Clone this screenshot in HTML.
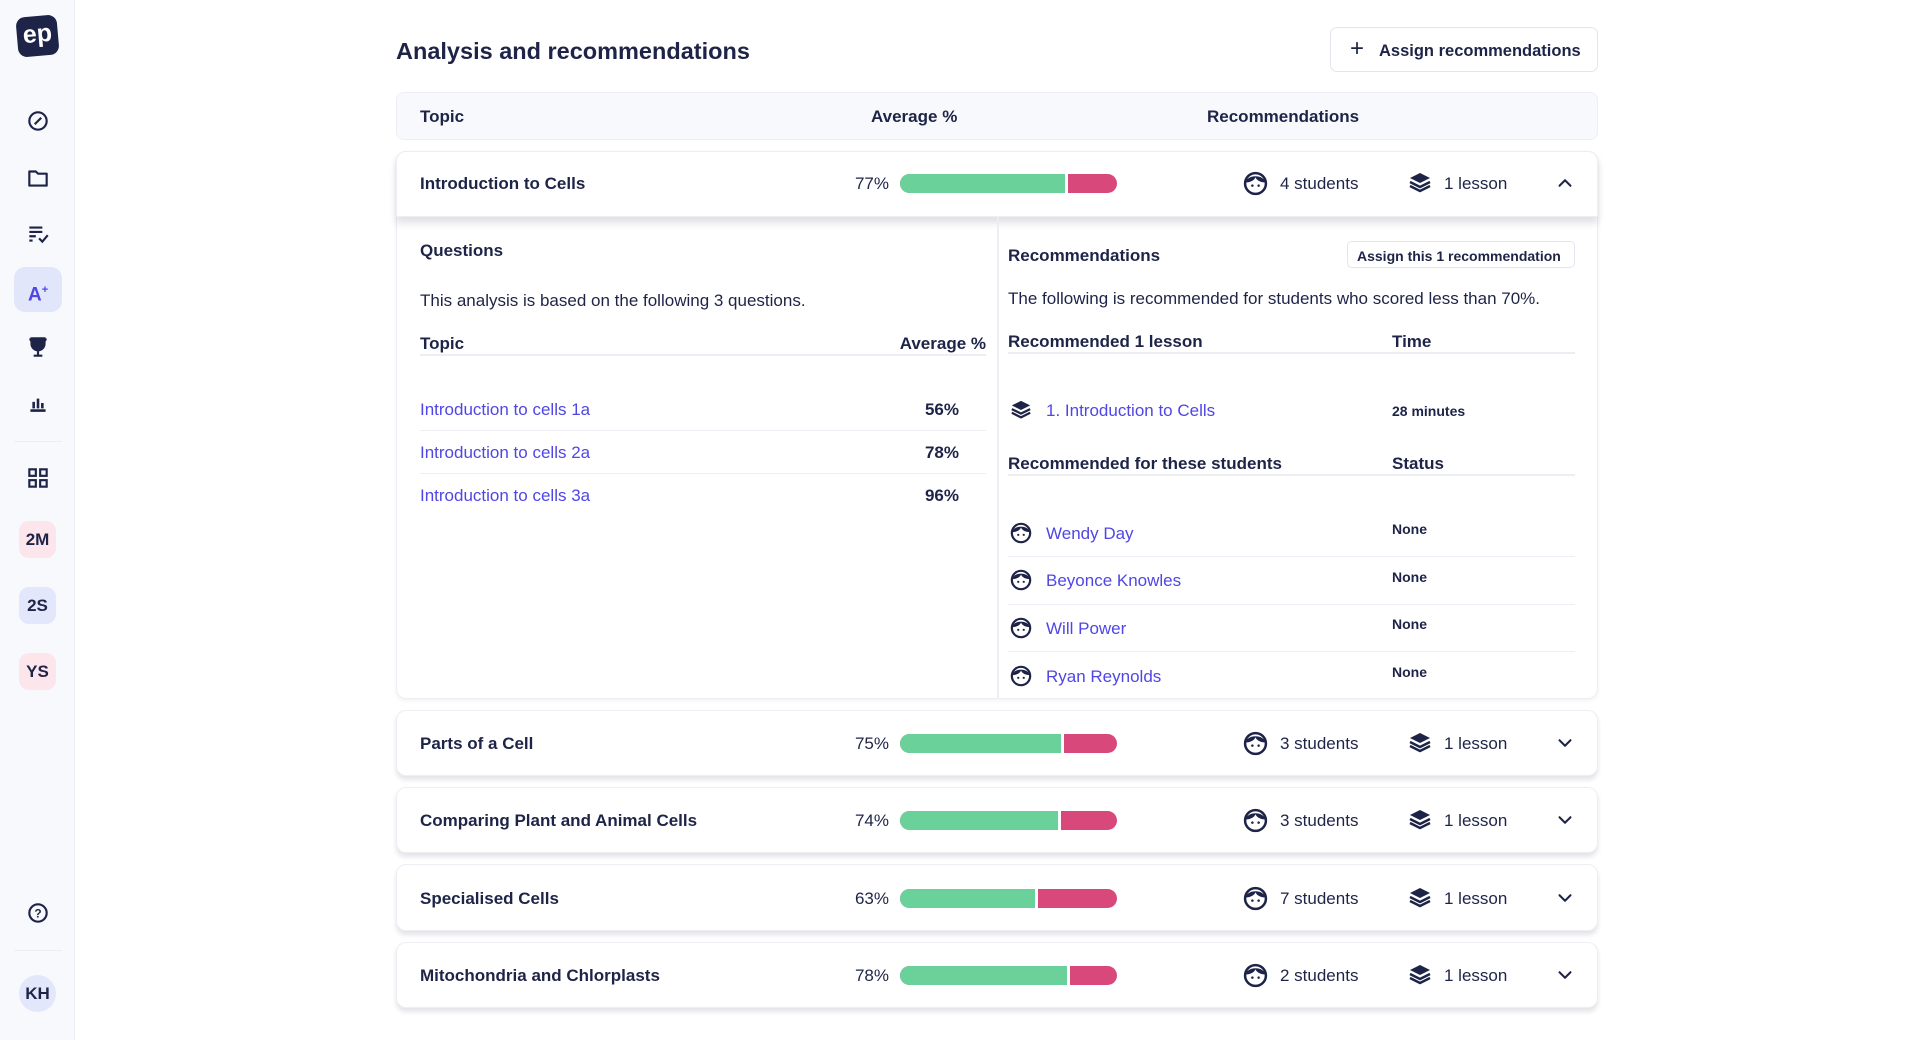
<!DOCTYPE html>
<html><head><meta charset="utf-8"><style>
*{box-sizing:border-box;margin:0;padding:0}
body{width:1920px;height:1040px;overflow:hidden;background:#fff;font-family:"Liberation Sans",sans-serif;color:#1e2447;position:relative}
.a{position:absolute}
.t{position:absolute;white-space:nowrap;line-height:20px;font-size:17px;transform:translateY(1px)}
.b{font-weight:bold}
.lk{color:#5046e5}
.side{left:0;top:0;width:75px;height:1040px;background:#f8f9fd;border-right:1px solid #eceef5}
.ic{position:absolute;left:25px;width:26px;height:26px}
.badge{position:absolute;left:19px;width:37px;height:37px;border-radius:10px;font-weight:bold;font-size:17px;text-align:center;line-height:37px;color:#1e2447}
.card{position:absolute;left:396px;width:1202px;background:#fff;border:1px solid #eceef3;border-radius:10px;box-shadow:0 4px 5px rgba(30,36,71,.12)}
.bar{position:absolute;left:900px;width:217px;height:19px;border-radius:10px;overflow:hidden;background:#d9487a}
.bar i{position:absolute;left:0;top:0;height:19px;background:#6bd19a;border-right:3px solid #fff}
.hl{position:absolute;height:1px;background:#eceef3}
</style></head><body>
<svg width="0" height="0" style="position:absolute">
<defs>
<symbol id="face" viewBox="0 0 24 24"><circle cx="12" cy="12" r="10" fill="none" stroke="#1e2447" stroke-width="2.4"/><path d="M2.5 11 C4 3,20 3,21.5 11 C17 11,13 9,12 6 C11 9,7 11,2.5 11Z" fill="#1e2447"/><circle cx="9" cy="14" r="1.2" fill="#1e2447"/><circle cx="15" cy="14" r="1.2" fill="#1e2447"/></symbol>
<symbol id="stack" viewBox="0 0 24 24"><path d="M12 2 L22 7 L12 12 L2 7Z" fill="#1e2447"/><path d="M2 11 L12 16 L22 11 M2 15 L12 20 L22 15" fill="none" stroke="#1e2447" stroke-width="2.4" stroke-linejoin="round"/></symbol>
<symbol id="down" viewBox="0 0 24 24"><path d="M6 9 L12 15 L18 9" fill="none" stroke="#1e2447" stroke-width="2.2" stroke-linecap="round" stroke-linejoin="round"/></symbol>
</defs></svg>

<div class="a side"></div>
<div class="a" style="left:17px;top:16px;width:41px;height:40px;background:#1e2447;border-radius:9px;transform:rotate(-5deg);color:#fff;font-weight:bold;font-size:25px;text-align:center;line-height:36px">ep</div>
<svg class="ic" style="top:108px" viewBox="0 0 24 24"><circle cx="12" cy="12" r="8" fill="none" stroke="#1e2447" stroke-width="2"/><path d="M15 9 L10 14 L9 15" stroke="#1e2447" stroke-width="2" fill="none"/></svg>
<svg class="ic" style="top:165px" viewBox="0 0 24 24"><path d="M4 6 h6 l2 2 h8 v11 h-16z" fill="none" stroke="#1e2447" stroke-width="2" stroke-linejoin="round"/></svg>
<svg class="ic" style="top:220px" viewBox="0 0 24 24"><path d="M4 7h12M4 11h12M4 15h6M4 19h3M13 17l3 3 5-6" fill="none" stroke="#1e2447" stroke-width="2"/></svg>
<div class="a" style="left:14px;top:267px;width:48px;height:45px;border-radius:11px;background:#e2e6fb"></div>
<div class="t b" style="left:28px;top:279px;font-size:19px;color:#4f46e5">A<sup style="font-size:11px">+</sup></div>
<svg class="ic" style="top:334px" viewBox="0 0 24 24"><path d="M6 4h12v5a6 6 0 0 1-12 0z M4 5h2v4 M20 5h-2v4 M12 15v4 M8 20h8" fill="#1e2447" stroke="#1e2447" stroke-width="2"/></svg>
<svg class="ic" style="top:390px" viewBox="0 0 24 24"><path d="M5 19h14M8 17v-6M12 17v-9M16 17v-5" stroke="#1e2447" stroke-width="2.4" fill="none"/></svg>
<div class="hl" style="left:14px;top:441px;width:48px"></div>
<svg class="ic" style="top:465px" viewBox="0 0 24 24"><rect x="4" y="4" width="6" height="6" fill="none" stroke="#1e2447" stroke-width="2"/><rect x="14" y="4" width="6" height="6" fill="none" stroke="#1e2447" stroke-width="2"/><rect x="4" y="14" width="6" height="6" fill="none" stroke="#1e2447" stroke-width="2"/><rect x="14" y="14" width="6" height="6" fill="none" stroke="#1e2447" stroke-width="2"/></svg>
<div class="badge" style="top:521px;background:#fde5ec">2M</div>
<div class="badge" style="top:587px;background:#e3e7fb">2S</div>
<div class="badge" style="top:653px;background:#fde5ec">YS</div>
<svg class="ic" style="top:900px" viewBox="0 0 24 24"><circle cx="12" cy="12" r="8" fill="none" stroke="#1e2447" stroke-width="2"/><text x="12" y="16" font-size="11" font-weight="bold" text-anchor="middle" fill="#1e2447" font-family="Liberation Sans">?</text></svg>
<div class="hl" style="left:14px;top:950px;width:48px"></div>
<div class="badge" style="top:975px;border-radius:50%;background:#e3e7fb">KH</div>

<div class="t b" style="left:396px;top:38px;font-size:23.5px;line-height:24px">Analysis and recommendations</div>
<div class="a" style="left:1330px;top:27px;width:268px;height:45px;border:1px solid #e3e6ee;border-radius:7px"></div>
<div class="t" style="left:1350px;top:38px;font-size:24px">+</div>
<div class="t b" style="left:1379px;top:40px;font-size:16.5px">Assign recommendations</div>

<div class="a" style="left:396px;top:92px;width:1202px;height:48px;background:#f8f9fd;border:1px solid #eceef3;border-radius:8px"></div>
<div class="t b" style="left:420px;top:106px">Topic</div>
<div class="t b" style="left:871px;top:106px">Average %</div>
<div class="t b" style="left:1207px;top:106px">Recommendations</div>

<div class="card" style="top:151px;height:548px;box-shadow:0 2px 4px rgba(30,36,71,.06)"></div>
<div class="a" style="left:396px;top:151px;width:1202px;height:66px;background:#fff;border:1px solid #eceef3;border-radius:10px 10px 0 0;box-shadow:0 6px 8px rgba(30,36,71,.14)"></div>
<div class="t b" style="left:420px;top:173px">Introduction to Cells</div>
<div class="t" style="left:839px;width:50px;text-align:right;top:173px">77%</div>
<div class="bar" style="top:174px"><i style="width:168px"></i></div>
<svg class="a" style="left:1243px;top:171px" width="25" height="25"><use href="#face"/></svg>
<div class="t" style="left:1280px;top:173px">4 students</div>
<svg class="a" style="left:1408px;top:171px" width="24" height="24"><use href="#stack"/></svg>
<div class="t" style="left:1444px;top:173px">1 lesson</div>
<svg class="a" style="left:1554px;top:172px;transform:rotate(180deg)" width="22" height="22"><use href="#down"/></svg>

<div class="a" style="left:997px;top:217px;width:2px;height:482px;background:#eceef3"></div>
<div class="t b" style="left:420px;top:240px">Questions</div>
<div class="t" style="left:420px;top:290px">This analysis is based on the following 3 questions.</div>
<div class="t b" style="left:420px;top:333px">Topic</div>
<div class="t b" style="left:886px;width:100px;text-align:right;top:333px">Average %</div>
<div class="hl" style="left:420px;top:354px;width:566px;height:2px"></div>
<div class="t lk" style="left:420px;top:399px">Introduction to cells 1a</div>
<div class="t b" style="left:899px;width:60px;text-align:right;top:399px">56%</div>
<div class="hl" style="left:420px;top:430px;width:566px"></div>
<div class="t lk" style="left:420px;top:442px">Introduction to cells 2a</div>
<div class="t b" style="left:899px;width:60px;text-align:right;top:442px">78%</div>
<div class="hl" style="left:420px;top:473px;width:566px"></div>
<div class="t lk" style="left:420px;top:485px">Introduction to cells 3a</div>
<div class="t b" style="left:899px;width:60px;text-align:right;top:485px">96%</div>

<div class="t b" style="left:1008px;top:245px">Recommendations</div>
<div class="a" style="left:1347px;top:241px;width:228px;height:27px;border:1px solid #e3e6ee;border-radius:5px"></div>
<div class="t b" style="left:1357px;top:245px;font-size:14px">Assign this 1 recommendation</div>
<div class="t" style="left:1008px;top:288px">The following is recommended for students who scored less than 70%.</div>
<div class="t b" style="left:1008px;top:331px">Recommended 1 lesson</div>
<div class="t b" style="left:1392px;top:331px">Time</div>
<div class="hl" style="left:1008px;top:352px;width:567px;height:2px"></div>
<svg class="a" style="left:1010px;top:399px" width="22" height="22"><use href="#stack"/></svg>
<div class="t lk" style="left:1046px;top:400px">1. Introduction to Cells</div>
<div class="t b" style="left:1392px;top:400px;font-size:14px">28 minutes</div>
<div class="t b" style="left:1008px;top:453px">Recommended for these students</div>
<div class="t b" style="left:1392px;top:453px">Status</div>
<div class="hl" style="left:1008px;top:474px;width:567px;height:2px"></div>

<svg class="a" style="left:1010px;top:522px" width="22" height="22"><use href="#face"/></svg>
<div class="t lk" style="left:1046px;top:523px">Wendy Day</div>
<div class="t b" style="left:1392px;top:518px;font-size:14px">None</div>
<div class="hl" style="left:1008px;top:556px;width:567px"></div>
<svg class="a" style="left:1010px;top:569px" width="22" height="22"><use href="#face"/></svg>
<div class="t lk" style="left:1046px;top:570px">Beyonce Knowles</div>
<div class="t b" style="left:1392px;top:566px;font-size:14px">None</div>
<div class="hl" style="left:1008px;top:604px;width:567px"></div>
<svg class="a" style="left:1010px;top:617px" width="22" height="22"><use href="#face"/></svg>
<div class="t lk" style="left:1046px;top:618px">Will Power</div>
<div class="t b" style="left:1392px;top:613px;font-size:14px">None</div>
<div class="hl" style="left:1008px;top:651px;width:567px"></div>
<svg class="a" style="left:1010px;top:665px" width="22" height="22"><use href="#face"/></svg>
<div class="t lk" style="left:1046px;top:666px">Ryan Reynolds</div>
<div class="t b" style="left:1392px;top:661px;font-size:14px">None</div>

<div class="card" style="top:710px;height:66px"></div>
<div class="t b" style="left:420px;top:733px">Parts of a Cell</div>
<div class="t" style="left:839px;width:50px;text-align:right;top:733px">75%</div>
<div class="bar" style="top:734px"><i style="width:164px"></i></div>
<svg class="a" style="left:1243px;top:731px" width="25" height="25"><use href="#face"/></svg>
<div class="t" style="left:1280px;top:733px">3 students</div>
<svg class="a" style="left:1408px;top:731px" width="24" height="24"><use href="#stack"/></svg>
<div class="t" style="left:1444px;top:733px">1 lesson</div>
<svg class="a" style="left:1554px;top:732px" width="22" height="22"><use href="#down"/></svg>

<div class="card" style="top:787px;height:66px"></div>
<div class="t b" style="left:420px;top:810px">Comparing Plant and Animal Cells</div>
<div class="t" style="left:839px;width:50px;text-align:right;top:810px">74%</div>
<div class="bar" style="top:811px"><i style="width:161px"></i></div>
<svg class="a" style="left:1243px;top:808px" width="25" height="25"><use href="#face"/></svg>
<div class="t" style="left:1280px;top:810px">3 students</div>
<svg class="a" style="left:1408px;top:808px" width="24" height="24"><use href="#stack"/></svg>
<div class="t" style="left:1444px;top:810px">1 lesson</div>
<svg class="a" style="left:1554px;top:809px" width="22" height="22"><use href="#down"/></svg>

<div class="card" style="top:864px;height:67px"></div>
<div class="t b" style="left:420px;top:888px">Specialised Cells</div>
<div class="t" style="left:839px;width:50px;text-align:right;top:888px">63%</div>
<div class="bar" style="top:889px"><i style="width:138px"></i></div>
<svg class="a" style="left:1243px;top:886px" width="25" height="25"><use href="#face"/></svg>
<div class="t" style="left:1280px;top:888px">7 students</div>
<svg class="a" style="left:1408px;top:886px" width="24" height="24"><use href="#stack"/></svg>
<div class="t" style="left:1444px;top:888px">1 lesson</div>
<svg class="a" style="left:1554px;top:887px" width="22" height="22"><use href="#down"/></svg>

<div class="card" style="top:942px;height:66px"></div>
<div class="t b" style="left:420px;top:965px">Mitochondria and Chlorplasts</div>
<div class="t" style="left:839px;width:50px;text-align:right;top:965px">78%</div>
<div class="bar" style="top:966px"><i style="width:170px"></i></div>
<svg class="a" style="left:1243px;top:963px" width="25" height="25"><use href="#face"/></svg>
<div class="t" style="left:1280px;top:965px">2 students</div>
<svg class="a" style="left:1408px;top:963px" width="24" height="24"><use href="#stack"/></svg>
<div class="t" style="left:1444px;top:965px">1 lesson</div>
<svg class="a" style="left:1554px;top:964px" width="22" height="22"><use href="#down"/></svg>
</body></html>
